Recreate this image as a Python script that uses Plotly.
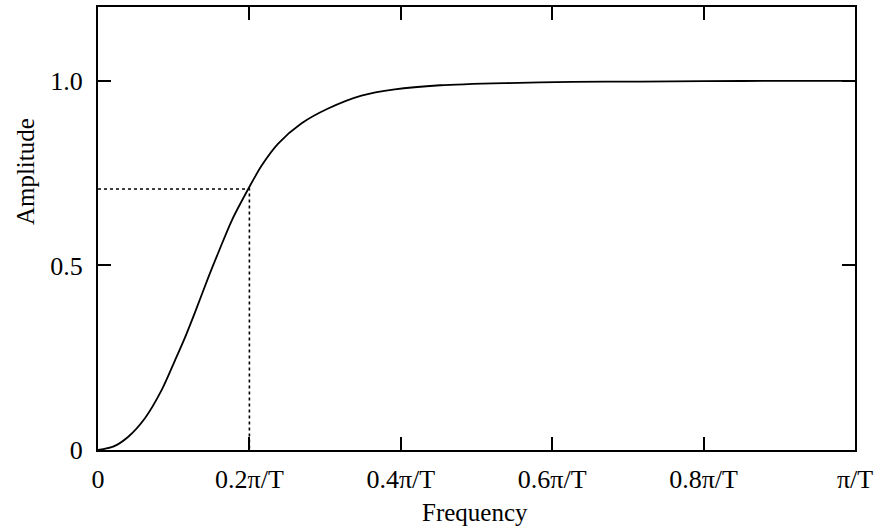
import plotly.graph_objects as go

# Frequency in units of pi/T
freq = [0, 0.02, 0.040, 0.062, 0.084, 0.102, 0.115, 0.128, 0.146, 0.159, 0.177,
        0.199, 0.216, 0.238, 0.269, 0.304, 0.348, 0.392, 0.452, 0.540, 0.627,
        0.716, 0.8, 0.9, 1.0]
amplitude = [0, 0.009, 0.036, 0.086, 0.162, 0.244, 0.305, 0.372, 0.469, 0.535, 0.623,
             0.709, 0.770, 0.830, 0.885, 0.925, 0.960, 0.977, 0.988, 0.994, 0.997,
             0.998, 0.999, 1.0, 1.0]

cutoff_freq = 0.2
cutoff_amp = 0.707

x_tickvals = [0, 0.2, 0.4, 0.6, 0.8, 1.0]
x_ticktext = ["0", "0.2π/T", "0.4π/T", "0.6π/T", "0.8π/T", "π/T"]
y_tickvals = [0, 0.5, 1.0]
y_ticktext = ["0", "0.5", "1.0"]

FONT = "Liberation Serif, Times New Roman, serif"

fig = go.Figure()
fig.add_trace(go.Scatter(x=[0, cutoff_freq, cutoff_freq], y=[cutoff_amp, cutoff_amp, 0],
                         mode="lines", line=dict(color="black", width=1.6, dash="dot"),
                         hoverinfo="skip"))
fig.add_trace(go.Scatter(x=freq, y=amplitude, mode="lines",
                         line=dict(color="black", width=1.8, shape="spline", smoothing=0.8)))

axis_common = dict(showgrid=False, zeroline=False, showline=True, linecolor="black",
                   linewidth=2, mirror="ticks", ticks="inside", ticklen=13,
                   tickwidth=2, tickcolor="black", automargin=False,
                   tickfont=dict(family=FONT, size=26, color="black"))

fig.update_xaxes(range=[0, 1.0], tickvals=x_tickvals, ticktext=x_ticktext,
                 ticklabelstandoff=5, **axis_common)
fig.update_yaxes(range=[0, 1.2], tickvals=y_tickvals, ticktext=y_ticktext,
                 ticklabelstandoff=8, **axis_common)

fig.add_annotation(text="Frequency", xref="paper", yref="paper", x=0.498, y=-0.14,
                   xanchor="center", yanchor="middle", showarrow=False,
                   font=dict(family=FONT, size=25, color="black"))
fig.add_annotation(text="Amplitude", xref="paper", yref="paper", x=-0.096, y=0.628,
                   xanchor="center", yanchor="middle", textangle=-90, showarrow=False,
                   font=dict(family=FONT, size=25, color="black"))

fig.update_layout(width=874, height=530, showlegend=False,
                  margin=dict(l=98, r=19, t=7, b=80, autoexpand=False),
                  plot_bgcolor="white", paper_bgcolor="white")

fig.write_html("out.html", config={"displayModeBar": False},
               post_script="document.body.style.margin='0';document.body.style.overflow='hidden';")
